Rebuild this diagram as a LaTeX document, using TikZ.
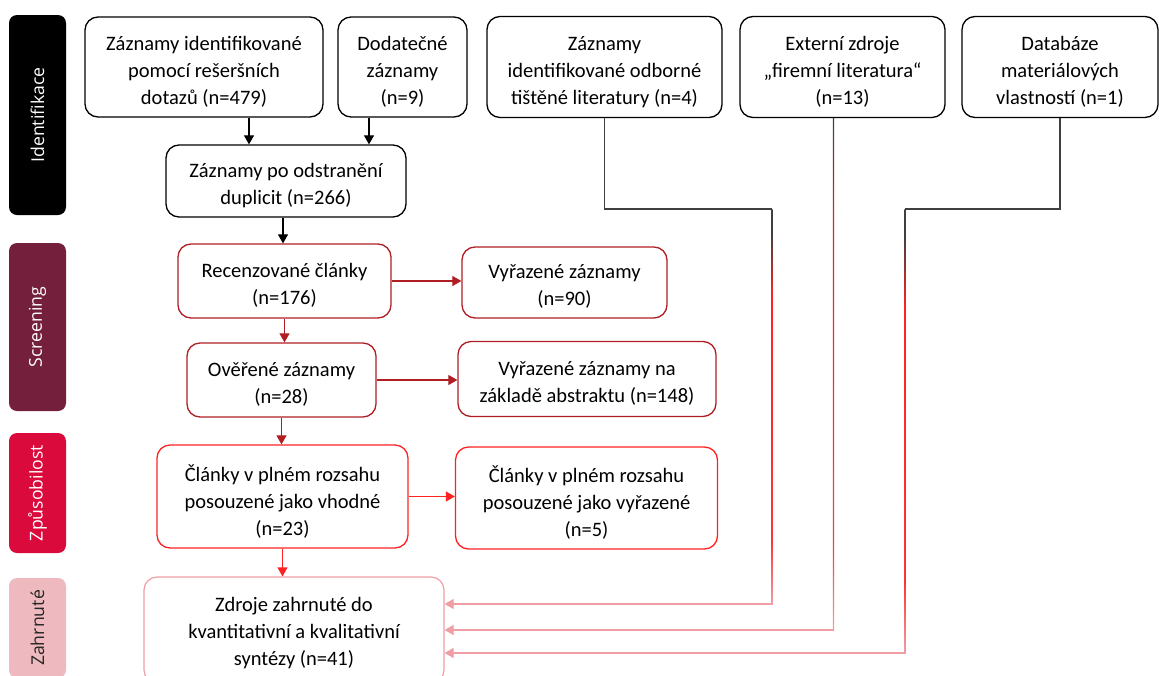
\documentclass[tikz,border=0pt]{standalone}
\usepackage{fontspec}
\setmainfont{Carlito}
\newfontfamily\barfont{Open Sans}
\usetikzlibrary{arrows.meta}
\definecolor{scrbar}{HTML}{741F3C}
\definecolor{zpubar}{HTML}{DB0A3C}
\definecolor{zahbar}{HTML}{EEBABF}
\definecolor{dkred}{HTML}{B01E24}
\definecolor{brred}{HTML}{FF2222}
\definecolor{pinkl}{HTML}{EF9EA6}
\definecolor{dgray}{HTML}{404040}
\pgfdeclareverticalshading{gradlong}{100bp}{color(0bp)=(pinkl); color(25bp)=(pinkl); color(33bp)=(brred!85!pinkl); color(64bp)=(brred); color(72bp)=(dgray); color(75bp)=(dgray); color(100bp)=(dgray)}
\pgfdeclareverticalshading{gradmid}{100bp}{color(0bp)=(pinkl); color(25bp)=(pinkl); color(33bp)=(brred!80!pinkl); color(55bp)=(brred); color(66bp)=(brred!70!dgray); color(75bp)=(dgray); color(100bp)=(dgray)}
\tikzset{
  box/.style={draw, rounded corners=13pt, line width=1.3pt, inner sep=0pt, fill=white},
  txt/.style={align=center, inner sep=0pt, font=\fontsize{20.5}{27}\selectfont},
  bar/.style={rounded corners=8pt, rotate=90, inner sep=0pt, minimum height=57pt,
    font=\barfont\fontsize{17.7}{20}\selectfont},
  arr/.style={line width=1.2pt, -{Triangle[length=9pt,width=10pt]}},
}
\begin{document}
\begin{tikzpicture}[x=1pt,y=-1pt]
\useasboundingbox (0,0) rectangle (1159,675);
% phase bars
\node[bar, fill=black, text=white, minimum width=200pt] (b1) at (37.5,115) {Identifikace};
\node[bar, fill=scrbar, text=white, minimum width=168pt] (b2) at (37.5,327) {Screening};
\node[bar, fill=zpubar, text=white, minimum width=120pt] (b3) at (37.5,493) {Způsobilost};
\node[bar, fill=zahbar, text=black!85, minimum width=100pt] (b4) at (37.5,628) {Zahrnuté};
% identification boxes
\node[box, minimum width=238pt, minimum height=100pt] (A) at (204,67) {};
\node[txt] (At) at ([yshift=-5pt]A.center) {Záznamy identifikované\\pomocí rešeršních\\dotazů (n=479)};
\node[box, minimum width=129pt, minimum height=100pt] (B) at (402.5,67) {};
\node[txt] (Bt) at ([yshift=-5pt]B.center) {Dodatečné\\záznamy\\(n=9)};
\node[box, minimum width=240pt, minimum height=72pt] (C) at (286,181) {};
\node[txt] (Ct) at ([yshift=-4.5pt]C.center) {Záznamy po odstranění\\duplicit (n=266)};
\node[box, minimum width=235pt, minimum height=101pt] (D) at (604.5,67) {};
\node[txt] (Dt) at ([yshift=-5pt]D.center) {Záznamy\\identifikované odborné\\tištěné literatury (n=4)};
\node[box, minimum width=205pt, minimum height=101pt] (E) at (842.5,67) {};
\node[txt] (Et) at ([yshift=-5pt]E.center) {Externí zdroje\\„firemní literatura“\\(n=13)};
\node[box, minimum width=196pt, minimum height=101pt] (F) at (1060,67) {};
\node[txt] (Ft) at ([yshift=-5pt]F.center) {Databáze\\materiálových\\vlastností (n=1)};
% screening
\node[box, draw=dkred, minimum width=213pt, minimum height=74pt] (R) at (284.5,281) {};
\node[txt] (Rt) at ([yshift=-4pt]R.center) {Recenzované články\\(n=176)};
\node[box, draw=dkred, minimum width=205pt, minimum height=71pt] (V1) at (564.5,282.5) {};
\node[txt] (V1t) at ([yshift=-4pt]V1.center) {Vyřazené záznamy\\(n=90)};
\node[box, draw=dkred, minimum width=189pt, minimum height=74pt] (O) at (281.5,380) {};
\node[txt] (Ot) at ([yshift=-4pt]O.center) {Ověřené záznamy\\(n=28)};
\node[box, draw=dkred, minimum width=258pt, minimum height=75pt] (V2) at (587,379) {};
\node[txt] (V2t) at ([yshift=-4pt]V2.center) {Vyřazené záznamy na\\základě abstraktu (n=148)};
% eligibility
\node[box, draw=brred, minimum width=251pt, minimum height=103pt] (CL) at (282.5,496.5) {};
\node[txt] (CLt) at ([yshift=-5pt]CL.center) {Články v plném rozsahu\\posouzené jako vhodné\\(n=23)};
\node[box, draw=brred, minimum width=262pt, minimum height=102pt] (V3) at (586.5,498) {};
\node[txt] (V3t) at ([yshift=-5pt]V3.center) {Články v plném rozsahu\\posouzené jako vyřazené\\(n=5)};
% included
\node[box, draw=pinkl, line width=1.2pt, minimum width=300pt, minimum height=106pt] (G) at (294,630) {};
\node[txt] (Gt) at ([yshift=-3pt]G.center) {Zdroje zahrnuté do\\kvantitativní a kvalitativní\\syntézy (n=41)};
% main flow arrows
\draw[arr, black] ([xshift=45pt]A.south) -- ([xshift=45pt]A.south |- C.north);
\draw[arr, black] ([xshift=-33.5pt]B.south) -- ([xshift=-33.5pt]B.south |- C.north);
\draw[arr, black] ([xshift=-3pt]C.south) -- ([xshift=-3pt]C.south |- R.north);
\draw[arr, dkred] (R.east) -- (R.east -| V1.west);
\draw[arr, dkred] (R.south) -- (R.south |- O.north);
\draw[arr, dkred] (O.east) -- (O.east -| V2.west);
\draw[arr, dkred] (O.south) -- (O.south |- CL.north);
\draw[arr, brred] (CL.east) -- (CL.east -| V3.west);
\draw[arr, brred] (CL.south) -- (CL.south |- G.north);
% side sources to included
\coordinate (d2) at (772,209);
\coordinate (d3) at (772,604);
\coordinate (e3) at (833.5,630);
\coordinate (e1) at (E.south -| e3);
\coordinate (f2) at (905,209);
\coordinate (f3) at (905,653);
\draw[dgray, line width=1.2pt] (D.south) |- (d2);
\draw[dgray, line width=1.2pt] (F.south) |- (f2);
\shade[shading=gradlong] ([xshift=-0.6pt]d2) rectangle ([xshift=0.6pt]d3);
\shade[shading=gradmid] ([xshift=-0.6pt]e1) rectangle ([xshift=0.6pt]e3);
\shade[shading=gradlong] ([xshift=-0.6pt]f2) rectangle ([xshift=0.6pt]f3);
\draw[arr, pinkl] ([xshift=0.6pt]d3) -- (d3 -| G.east);
\draw[arr, pinkl] ([xshift=0.6pt]e3) -- (e3 -| G.east);
\draw[arr, pinkl] ([xshift=0.6pt]f3) -- (f3 -| G.east);
\end{tikzpicture}
\end{document}
